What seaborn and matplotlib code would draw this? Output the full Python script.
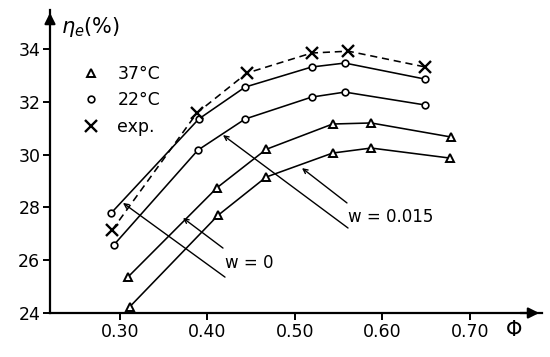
import matplotlib
matplotlib.use("Agg")
import matplotlib.pyplot as plt
from matplotlib.lines import Line2D
import seaborn as sns
import pandas as pd

# ---- data ----
phi_37_w0 = [0.309, 0.411, 0.467, 0.543, 0.587, 0.678]
eta_37_w0 = [25.36, 28.75, 30.20, 31.16, 31.20, 30.67]
phi_37_w15 = [0.311, 0.412, 0.467, 0.543, 0.587, 0.677]
eta_37_w15 = [24.23, 27.70, 29.15, 30.06, 30.25, 29.87]
phi_22_w0 = [0.290, 0.390, 0.443, 0.519, 0.557, 0.649]
eta_22_w0 = [27.79, 31.35, 32.56, 33.32, 33.47, 32.86]
phi_22_w15 = [0.293, 0.389, 0.443, 0.519, 0.557, 0.649]
eta_22_w15 = [26.58, 30.17, 31.35, 32.18, 32.37, 31.88]
phi_exp = [0.291, 0.388, 0.445, 0.519, 0.561, 0.649]
eta_exp = [27.14, 31.58, 33.09, 33.85, 33.92, 33.32]

x_ticks = [0.30, 0.40, 0.50, 0.60, 0.70]
x_tick_labels = ["0.30", "0.40", "0.50", "0.60", "0.70"]
y_ticks = [24, 26, 28, 30, 32, 34]
legend_labels = ["37°C", "22°C", "exp."]

sns.set_theme(style="white")
plt.rcParams['font.family'] = ['DejaVu Sans']
plt.rcParams['text.color'] = 'black'
plt.rcParams['xtick.color'] = 'black'
plt.rcParams['ytick.color'] = 'black'

fig = plt.figure(figsize=(5.5, 3.57), dpi=100)
ax = fig.add_axes([50/550, 44/357, 492/550, 303/357])

lw = 1.15
tri = dict(marker='^', markersize=5.5, markerfacecolor='white',
           markeredgecolor='black', markeredgewidth=1.4)
circ = dict(marker='o', markersize=4.8, markerfacecolor='white',
            markeredgecolor='black', markeredgewidth=1.2)
xm = dict(marker='x', markersize=8.5, markeredgecolor='black', markeredgewidth=1.7)

def draw(px, py, style, ls='-'):
    df = pd.DataFrame({"phi": px, "eta": py})
    sns.lineplot(data=df, x="phi", y="eta", ax=ax, color='black', lw=lw,
                 linestyle=ls, estimator=None, sort=False, **style)

draw(phi_37_w0, eta_37_w0, tri)
draw(phi_37_w15, eta_37_w15, tri)
draw(phi_22_w0, eta_22_w0, circ)
draw(phi_22_w15, eta_22_w15, circ)
draw(phi_exp, eta_exp, xm, ls=(0, (4.5, 3)))

ax.set_xlim(0.22, 0.7823)
ax.set_ylim(24, 35.48)
ax.set_xticks(x_ticks)
ax.set_xticklabels(x_tick_labels)
ax.set_yticks(y_ticks)
ax.set_xlabel("")
ax.set_ylabel("")

for s in ['top', 'right']:
    ax.spines[s].set_visible(False)
for s in ['left', 'bottom']:
    ax.spines[s].set_color('black')
    ax.spines[s].set_linewidth(1.6)
ax.tick_params(axis='both', which='major', direction='out', length=5, width=1.4,
               colors='black', labelcolor='black', labelsize=12.5, pad=2,
               bottom=True, left=True)

# axis arrows
ax.annotate('', xy=(1.0, 0), xytext=(0.95, 0), xycoords='axes fraction',
            arrowprops=dict(arrowstyle='-|>', color='black', lw=1.6, mutation_scale=16),
            annotation_clip=False)
ax.annotate('', xy=(0, 1.0), xytext=(0, 0.95), xycoords='axes fraction',
            arrowprops=dict(arrowstyle='-|>', color='black', lw=1.6, mutation_scale=16),
            annotation_clip=False)

ax.text(0.022, 0.945, r"$\eta_e$(%)", transform=ax.transAxes, fontsize=15,
        ha='left', va='center', color='black')
ax.text(0.943, -0.056, "Φ", transform=ax.transAxes, fontsize=15,
        ha='center', va='center', color='black')

# legend
handles = [
    Line2D([], [], linestyle='none', **tri),
    Line2D([], [], linestyle='none', **circ),
    Line2D([], [], linestyle='none', **xm),
]
leg = ax.legend(handles, legend_labels, loc='upper left', bbox_to_anchor=(0.04, 0.848),
                frameon=False, fontsize=12.5, handletextpad=0.75, labelspacing=0.5,
                handlelength=1.5, borderpad=0, labelcolor='black')

# annotation leader lines
arrow = dict(arrowstyle='->', color='black', lw=1.0, mutation_scale=8, shrinkA=0, shrinkB=0)
ax.annotate('', xy=(0.3034, 28.17), xytext=(0.420, 25.36), arrowprops=arrow)
ax.annotate('', xy=(0.372, 27.60), xytext=(0.4177, 26.46), arrowprops=arrow)
ax.text(0.4200, 25.90, "w = 0", fontsize=12, ha='left', va='center', color='black')
ax.annotate('', xy=(0.4177, 30.74), xytext=(0.5606, 27.22), arrowprops=arrow)
ax.annotate('', xy=(0.508, 29.49), xytext=(0.5594, 28.17), arrowprops=arrow)
ax.text(0.5610, 27.62, "w = 0.015", fontsize=12, ha='left', va='center', color='black')

fig.savefig("out.png", dpi=100)
